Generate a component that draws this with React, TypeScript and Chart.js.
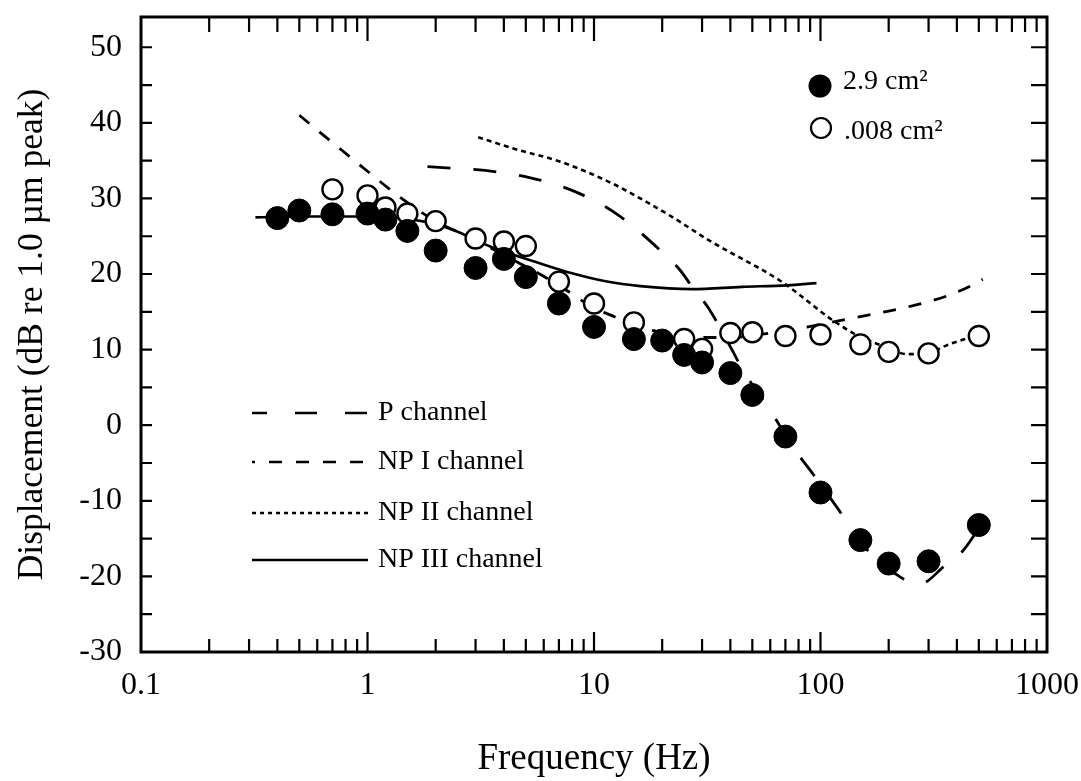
import React, { useEffect, useRef } from 'react';
import { Chart, registerables } from 'chart.js';
Chart.register(...registerables);

const FONT = '"Liberation Serif", "DejaVu Serif", serif';

// Measured data: 2.9 cm^2 (filled) and .008 cm^2 (open)
const filledFreq = [0.4, 0.5, 0.7, 1, 1.2, 1.5, 2, 3, 4, 5, 7, 10, 15, 20, 25, 30, 40, 50, 70, 100, 150, 200, 300, 500];
const filledDb = [27.4, 28.4, 27.9, 28.0, 27.2, 25.7, 23.1, 20.8, 22.0, 19.6, 16.1, 13.0, 11.4, 11.2, 9.3, 8.3, 6.9, 4.0, -1.5, -8.9, -15.2, -18.3, -18.0, -13.2];
const openFreq = [0.7, 1, 1.2, 1.5, 2, 3, 4, 5, 7, 10, 15, 25, 30, 40, 50, 70, 100, 150, 200, 300, 500];
const openDb = [31.2, 30.4, 28.8, 28.0, 27.0, 24.7, 24.3, 23.7, 19.0, 16.1, 13.6, 11.4, 10.1, 12.2, 12.3, 11.8, 12.0, 10.7, 9.7, 9.5, 11.8];

// Channel curves
const pFreq = [1.84, 2.07, 3.3, 5.3, 8.4, 12.8, 20, 24, 27.4, 32, 40.8, 45.4, 59.8, 77.3, 90, 119.7, 154.4, 228, 260, 287, 344, 420, 545];
const pDb = [34.2, 34.1, 33.7, 32.7, 30.8, 27.8, 22.9, 20.5, 18.1, 15.5, 9.9, 7.3, 2.0, -3.3, -5.95, -11.1, -15.9, -20.2, -20.9, -20.8, -18.9, -16.8, -11.9];
const npIFreq = [0.5, 0.7, 1, 1.4, 2, 3, 4, 5, 7, 10, 12, 16, 20, 28, 40, 60, 88, 120, 200, 280, 370, 480, 520];
const npIDb = [41, 37.4, 33.6, 30.1, 27, 24.5, 22.5, 21, 18.5, 15.5, 14.5, 12.9, 12.3, 11.6, 11.6, 12.2, 13.0, 13.8, 15.1, 16.1, 17.2, 18.7, 19.3];
const npIIFreq = [3.08, 4.4, 7.2, 12, 16, 22, 32, 68, 113, 145, 200, 240, 300, 370, 424, 500];
const npIIDb = [38.1, 36.6, 34.8, 32.0, 30.0, 27.6, 24.5, 18.9, 13.9, 11.9, 10.2, 9.4, 9.6, 10.7, 11.3, 11.9];
const npIIIFreq = [0.32, 0.5, 0.7, 1, 1.4, 2, 2.5, 3.5, 5.8, 8, 11.4, 16, 27, 45, 71, 96];
const npIIIDb = [27.5, 27.6, 27.6, 27.6, 27.4, 26.6, 25.6, 23.6, 21.4, 20.1, 19.0, 18.4, 18.0, 18.3, 18.5, 18.8];

const xTickValues = [0.1, 1, 10, 100, 1000];
const xTickLabels = ['0.1', '1', '10', '100', '1000'];
const yTickValues = [-30, -20, -10, 0, 10, 20, 30, 40, 50];
const yTickLabels = ['-30', '-20', '-10', '0', '10', '20', '30', '40', '50'];

const pointLegend = ['2.9 cm\u00B2', '.008 cm\u00B2'];
const lineLegend = ['P channel', 'NP I channel', 'NP II channel', 'NP III channel'];

const toXY = (xs: number[], ys: number[]) => xs.map((x, i) => ({ x, y: ys[i] }));

const framePlugin = {
  id: 'frameTicks',
  beforeDatasetsDraw(chart: any) {
    const { ctx, chartArea: a, scales } = chart;
    const xs = scales.x, ys = scales.y;
    ctx.save();
    ctx.strokeStyle = '#000';
    ctx.lineWidth = 3;
    ctx.strokeRect(a.left, a.top, a.right - a.left, a.bottom - a.top);
    ctx.lineWidth = 2.2;
    ctx.beginPath();
    for (let v = -30; v <= 50; v += 5) {
      const y = ys.getPixelForValue(v);
      ctx.moveTo(a.left, y); ctx.lineTo(a.left + 11, y);
      ctx.moveTo(a.right, y); ctx.lineTo(a.right - 16, y);
    }
    for (let e = -1; e <= 3; e++) {
      for (let m = 1; m <= 9; m++) {
        const f = m * Math.pow(10, e);
        if (f > 1000.0001) break;
        const x = xs.getPixelForValue(f);
        const major = m === 1;
        if (x <= a.left + 1 || x >= a.right - 1) continue;
        ctx.moveTo(x, a.bottom); ctx.lineTo(x, a.bottom - (major ? 20 : 13));
        ctx.moveTo(x, a.top); ctx.lineTo(x, a.top + (major ? 24 : 15));
      }
    }
    ctx.stroke();
    ctx.restore();
  },
  afterDraw(chart: any) {
    const { ctx } = chart;
    ctx.save();
    ctx.fillStyle = '#000';
    ctx.strokeStyle = '#000';
    ctx.beginPath();
    ctx.arc(820, 86, 11.5, 0, Math.PI * 2);
    ctx.fill();
    ctx.beginPath();
    ctx.lineWidth = 2.2;
    ctx.arc(821, 128, 10, 0, Math.PI * 2);
    ctx.stroke();
    ctx.font = `28px ${FONT}`;
    ctx.textBaseline = 'alphabetic';
    ctx.textAlign = 'left';
    ctx.fillText(pointLegend[0], 843, 89);
    ctx.fillText(pointLegend[1], 844, 139);
    const ys = [413, 462, 513, 560];
    const dashes = [[22, 28], [13, 14], [4, 4], []];
    const offsets = [7, 10, 0, 0];
    ctx.lineWidth = 2.6;
    for (let i = 0; i < 4; i++) {
      ctx.beginPath();
      ctx.setLineDash(dashes[i]);
      ctx.lineDashOffset = offsets[i];
      ctx.moveTo(252, ys[i]);
      ctx.lineTo(368, ys[i]);
      ctx.stroke();
    }
    ctx.setLineDash([]);
    ctx.textBaseline = 'middle';
    for (let i = 0; i < 4; i++) {
      ctx.fillText(lineLegend[i], 378, ys[i]);
    }
    ctx.restore();
  },
};

export default function App() {
  const ref = useRef<HTMLCanvasElement>(null);
  useEffect(() => {
    if (!ref.current) return;
    const lineBase = {
      showLine: true,
      borderColor: '#000',
      pointRadius: 0,
      pointHoverRadius: 0,
      fill: false,
      cubicInterpolationMode: 'monotone' as const,
    };
    const chart = new Chart(ref.current, {
      type: 'scatter',
      data: {
        datasets: [
          {
            label: pointLegend[0],
            data: toXY(filledFreq, filledDb),
            showLine: false,
            pointRadius: 11.5,
            pointBackgroundColor: '#000',
            pointBorderColor: '#000',
            pointBorderWidth: 1,
          },
          {
            label: pointLegend[1],
            data: toXY(openFreq, openDb),
            showLine: false,
            pointRadius: 10,
            pointBackgroundColor: '#fff',
            pointBorderColor: '#000',
            pointBorderWidth: 2.4,
          },
          { ...lineBase, label: lineLegend[0], data: toXY(pFreq, pDb), borderWidth: 2.8, borderDash: [23, 23] },
          { ...lineBase, label: lineLegend[1], data: toXY(npIFreq, npIDb), borderWidth: 2.8, borderDash: [13, 13] },
          { ...lineBase, label: lineLegend[2], data: toXY(npIIFreq, npIIDb), borderWidth: 2.6, borderDash: [5, 4] },
          { ...lineBase, label: lineLegend[3], data: toXY(npIIIFreq, npIIIDb), borderWidth: 2.6 },
        ] as any,
      },
      options: {
        responsive: false,
        animation: false,
        events: [],
        layout: { padding: { left: 0, top: 17, right: 34, bottom: 0 } },
        plugins: { legend: { display: false }, tooltip: { enabled: false } },
        scales: {
          x: {
            type: 'logarithmic',
            min: 0.1,
            max: 1000,
            afterBuildTicks: (s: any) => { s.ticks = xTickValues.map((v) => ({ value: v })); },
            afterFit: (s: any) => { s.height = 129; s.paddingLeft = 0; s.paddingRight = 0; },
            grid: { display: false, drawTicks: false },
            border: { display: false },
            ticks: {
              color: '#000',
              font: { family: FONT, size: 32 },
              padding: 14,
              maxRotation: 0,
              autoSkip: false,
              callback: (_v: any, i: number) => xTickLabels[i],
            },
            title: {
              display: true,
              text: 'Frequency (Hz)',
              color: '#000',
              font: { family: FONT, size: 37 },
              padding: { top: 0, bottom: 0 },
            },
          },
          y: {
            type: 'linear',
            min: -30,
            max: 54,
            afterBuildTicks: (s: any) => { s.ticks = yTickValues.map((v) => ({ value: v })); },
            afterFit: (s: any) => { s.width = 141; s.paddingTop = 0; s.paddingBottom = 0; },
            grid: { display: false, drawTicks: false },
            border: { display: false },
            ticks: {
              color: '#000',
              font: { family: FONT, size: 32 },
              padding: 19,
              autoSkip: false,
              callback: (_v: any, i: number) => yTickLabels[i],
            },
            title: {
              display: true,
              text: 'Displacement (dB re 1.0 \u00B5m peak)',
              color: '#000',
              font: { family: FONT, size: 35.5 },
              padding: { top: 11, bottom: 0 },
            },
          },
        },
      } as any,
      plugins: [framePlugin],
    });
    return () => chart.destroy();
  }, []);
  return (
    <div style={{ position: 'absolute', left: 0, top: 0, width: 1081, height: 781, background: '#fff' }}>
      <canvas ref={ref} width={1081} height={781} />
    </div>
  );
}
